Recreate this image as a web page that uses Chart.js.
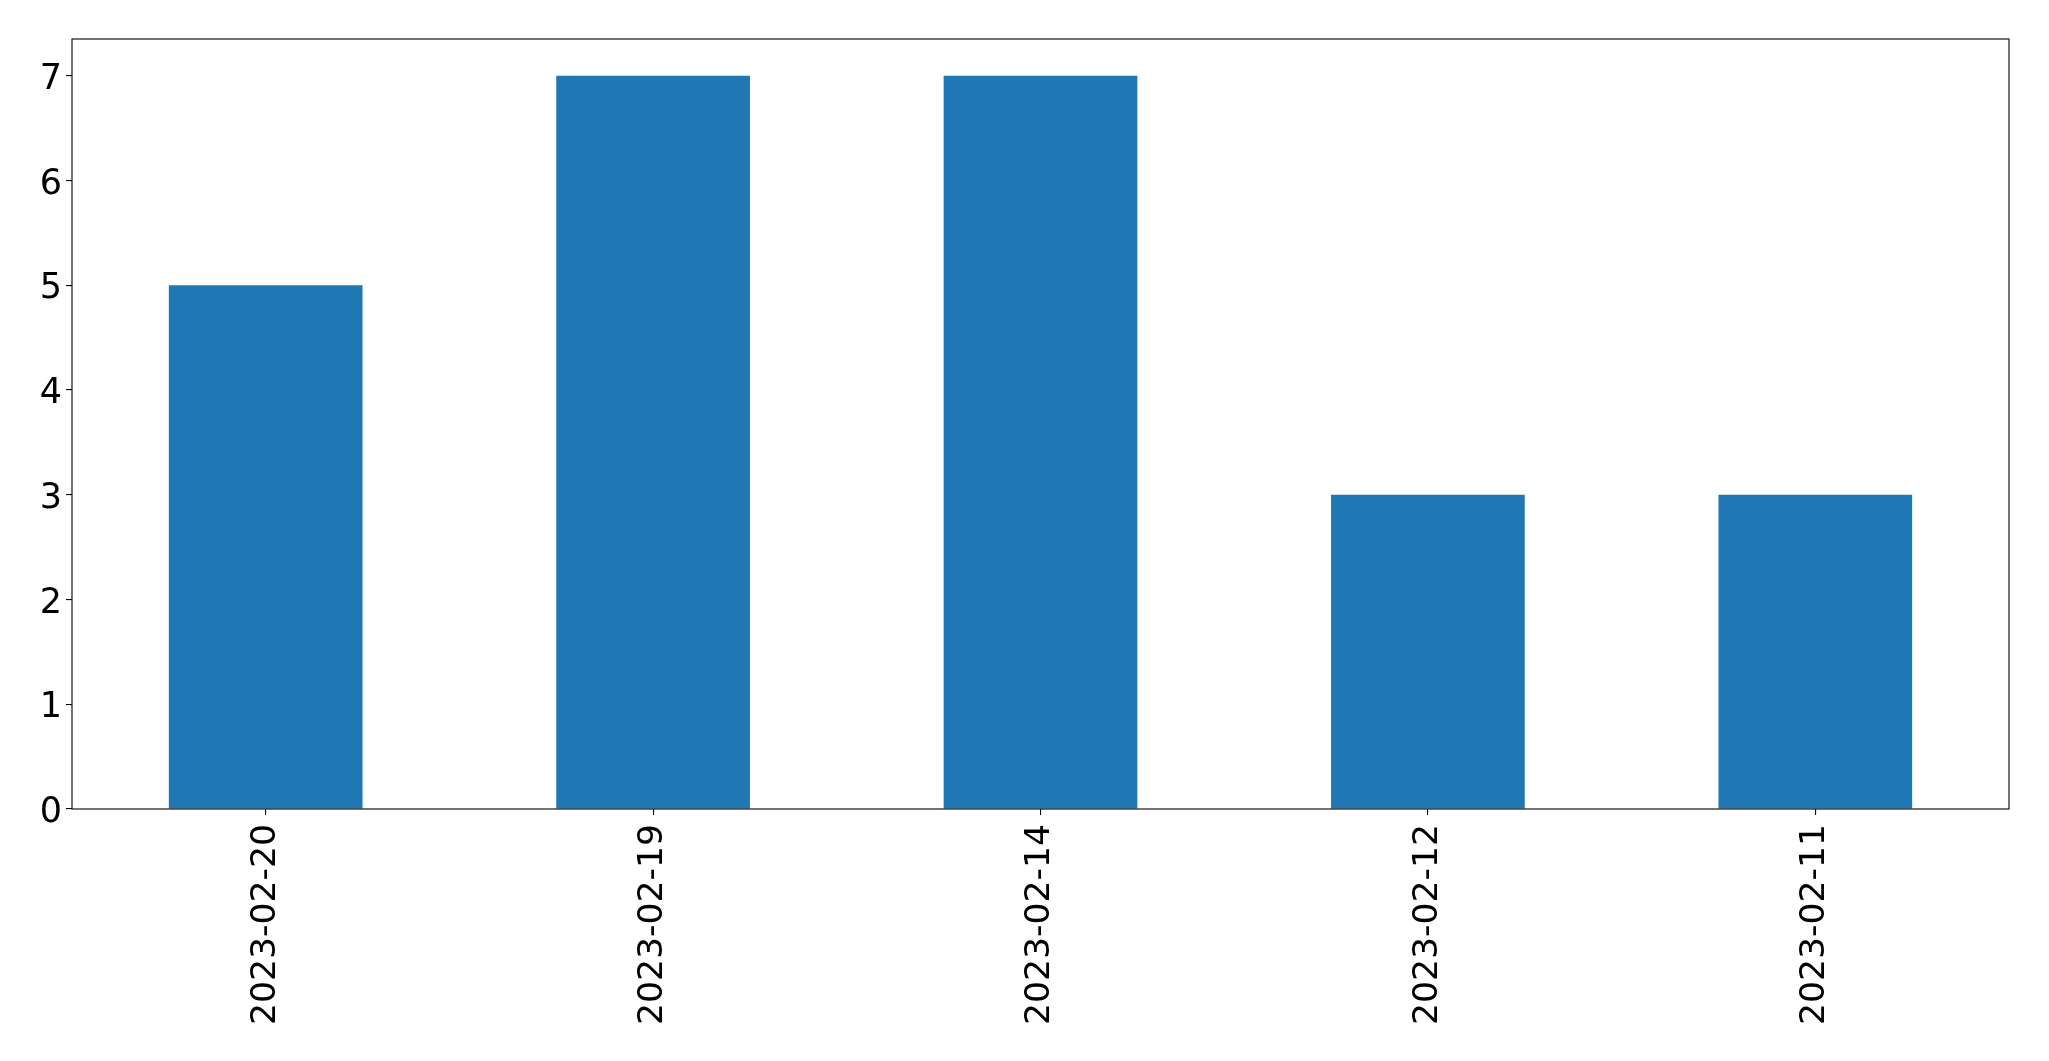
<!DOCTYPE html>
<html>
<head>
<meta charset="utf-8">
<script src="https://cdn.jsdelivr.net/npm/chart.js@4"></script>
<style>
html,body{margin:0;padding:0;background:#fff;}
#wrap{width:2049px;height:1061px;position:relative;}
</style>
</head>
<body>
<div id="wrap"><canvas id="c" width="2049" height="1061"></canvas></div>
<script>
const categories = ["2023-02-20", "2023-02-19", "2023-02-14", "2023-02-12", "2023-02-11"];
const counts = [5, 7, 7, 3, 3];
const yTicks = [0, 1, 2, 3, 4, 5, 6, 7];

const frame = {
  id: 'frame',
  afterDraw(chart) {
    const a = chart.chartArea, ctx = chart.ctx;
    ctx.save();
    ctx.strokeStyle = '#000';
    ctx.lineWidth = 1.1;
    ctx.strokeRect(a.left, a.top, a.right - a.left, a.bottom - a.top);
    ctx.restore();
  }
};

new Chart(document.getElementById('c'), {
  type: 'bar',
  data: {
    labels: categories,
    datasets: [{
      data: counts,
      backgroundColor: '#1f77b4',
      barPercentage: 0.5,
      categoryPercentage: 1.0
    }]
  },
  options: {
    responsive: false,
    animation: false,
    devicePixelRatio: 1,
    layout: { padding: { top: 39, right: 40, left: 0, bottom: 0 } },
    plugins: { legend: { display: false }, tooltip: { enabled: false } },
    scales: {
      x: {
        offset: true,
        grid: { offset: false, drawOnChartArea: false, drawTicks: true, tickLength: 6, color: '#000', lineWidth: 1.1 },
        border: { display: false },
        ticks: {
          color: '#000', font: { family: 'DejaVu Sans', size: 34.6 },
          minRotation: 90, maxRotation: 90, padding: 9, autoSkip: false
        },
        afterFit(s) { s.height = 252; }
      },
      y: {
        min: 0, max: 7.35,
        grid: { drawOnChartArea: false, drawTicks: true, tickLength: 6, color: '#000', lineWidth: 1.1 },
        border: { display: false },
        afterBuildTicks(s) { s.ticks = yTicks.map(v => ({ value: v })); },
        ticks: {
          color: '#000', font: { family: 'DejaVu Sans', size: 35 }, padding: 4, labelOffset: 4,
          callback: v => String(v)
        },
        afterFit(s) { s.width = 72; }
      }
    }
  },
  plugins: [frame]
});
</script>
</body>
</html>
